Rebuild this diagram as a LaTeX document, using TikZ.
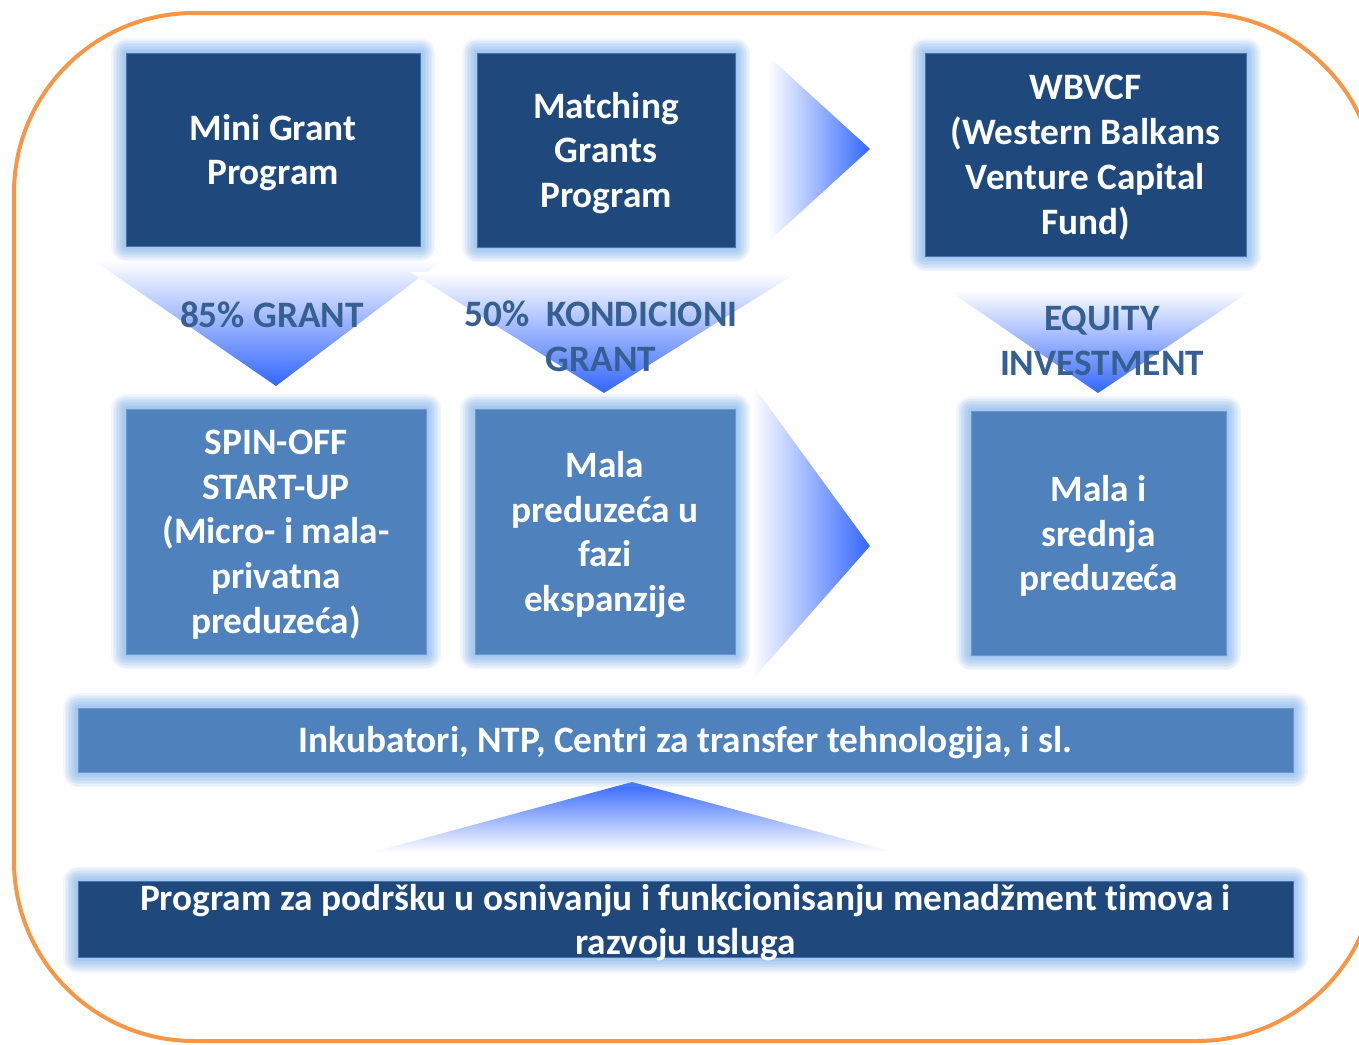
\documentclass[tikz,border=0pt]{standalone}
\usepackage{fontspec}
\setmainfont{Carlito}[Ligatures=NoCommon]
\definecolor{darkbox}{HTML}{1F497D}
\definecolor{midbox}{HTML}{4F81BD}
\definecolor{darkedge}{HTML}{4A74A8}
\definecolor{midedge}{HTML}{6F97CC}
\definecolor{labelc}{HTML}{366092}
\definecolor{glowc}{HTML}{8CBAEE}
\definecolor{arrowc}{HTML}{3366FF}
\definecolor{lavender}{HTML}{CDD0FF}
\definecolor{orangec}{HTML}{F79646}
\tikzset{
  glow/.style={
    preaction={draw=glowc, line width=30pt, line join=round, opacity=0.1},
    preaction={draw=glowc, line width=27pt, line join=round, opacity=0.1},
    preaction={draw=glowc, line width=24pt, line join=round, opacity=0.12},
    preaction={draw=glowc, line width=21pt, line join=round, opacity=0.12},
    preaction={draw=glowc, line width=18pt, line join=round, opacity=0.14},
    preaction={draw=glowc, line width=15pt, line join=round, opacity=0.14},
    preaction={draw=glowc, line width=12pt, line join=round, opacity=0.16},
    preaction={draw=glowc, line width=9pt, line join=round, opacity=0.16},
    preaction={draw=glowc, line width=6pt, line join=round, opacity=0.18},
    preaction={draw=glowc, line width=3pt, line join=round, opacity=0.18}},
  boxbase/.style={glow, rectangle, inner sep=0pt, line width=1pt},
  topbox/.style={boxbase, fill=darkbox, draw=darkedge},
  midbox/.style={boxbase, fill=midbox, draw=midedge},
  boxtext/.style={inner sep=0pt, align=center, text=white, yshift=-3pt,
    font=\bfseries\fontsize{37.3}{44.8}\selectfont},
  barlabel/.style={inner sep=0pt, align=center, text=labelc,
    font=\bfseries\fontsize{37.3}{44.8}\selectfont},
  rightarrow/.style={shade, left color=white, middle color=lavender, right color=arrowc},
  downarrow/.style={shade, top color=white, middle color=lavender, bottom color=arrowc},
  uparrow/.style={shade, top color=arrowc, middle color=lavender, bottom color=white}
}
\begin{document}
\begin{tikzpicture}[x=1pt,y=-1pt]
\useasboundingbox (0,0) rectangle (1359,1044);
\clip (0,0) rectangle (1359,1044);
\fill[white] (0,0) rectangle (1359,1044);

% border
\draw[orangec, line width=4pt, rounded corners=180pt] (14,13) rectangle (1377,1041);

% block arrows
\coordinate (ra1) at (870,149);
\coordinate (ra2) at (870,546);
\coordinate (da1) at (276,386);
\coordinate (da2) at (604,393);
\coordinate (da3) at (1098,393);
\coordinate (ua1) at (632,782);
\path[rightarrow] (768,56) -- (ra1) -- (768,242) -- cycle;
\path[rightarrow] (752,384) -- (ra2) -- (752,680) -- cycle;
\path[downarrow] (93,260) -- (443,260) -- (da1) -- cycle;
\path[downarrow] (410,272) -- (798,272) -- (da2) -- cycle;
\path[downarrow] (948,290) -- (1252,290) -- (da3) -- cycle;
\path[uparrow] (373,852) -- (ua1) -- (893,852) -- cycle;

% boxes
\node[topbox, minimum width=294pt, minimum height=193pt,
  label={[boxtext]center:{Mini Grant\\Program}}] (mini) at (273,149.5) {};
\node[topbox, minimum width=258pt, minimum height=194pt,
  label={[boxtext]center:{Matching\\Grants\\Program}}] (match) at (606,150) {};
\node[topbox, minimum width=321pt, minimum height=203pt,
  label={[boxtext]center:{WBVCF\\(Western Balkans\\Venture Capital\\Fund)}}] (wbvcf) at (1085.5,154.5) {};
\node[midbox, minimum width=300pt, minimum height=245pt,
  label={[boxtext]center:{SPIN-OFF\\START-UP\\(Micro- i mala-\\privatna\\preduzeća)}}] (spin) at (276,531.5) {};
\node[midbox, minimum width=260pt, minimum height=245pt,
  label={[boxtext]center:{Mala\\preduzeća u\\fazi\\ekspanzije}}] (mala) at (605,531.5) {};
\node[midbox, minimum width=255pt, minimum height=244pt,
  label={[boxtext]center:{Mala i\\srednja\\preduzeća}}] (msp) at (1098.5,533) {};
\node[midbox, minimum width=1215pt, minimum height=64pt,
  label={[boxtext]center:{Inkubatori, NTP, Centri za transfer tehnologija, i sl.}}] (inkub) at (685.5,740) {};
\node[topbox, minimum width=1215pt, minimum height=76pt,
  label={[boxtext]center:{Program za podršku u osnivanju i funkcionisanju menadžment timova i\\razvoju usluga}}] (prog) at (685.5,919.5) {};

% arrow labels
\node[barlabel] (l85) at (272,315) {85\% GRANT};
\node[barlabel] (l50) at (601,336) {50\%\ \ KONDICIONI\\GRANT};
\node[barlabel] (leq) at (1102,341) {EQUITY\\INVESTMENT};
\end{tikzpicture}
\end{document}
